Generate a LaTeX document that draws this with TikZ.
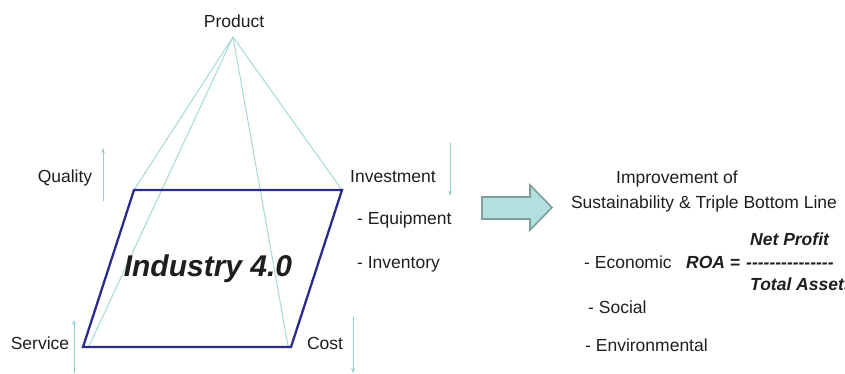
\documentclass[tikz,border=0pt]{standalone}
\usepackage{fontspec}
\setmainfont{Liberation Sans}
\usetikzlibrary{arrows.meta}
\definecolor{frame}{HTML}{2B2B8C}
\definecolor{edge}{HTML}{A6D8D8}
\definecolor{trend}{HTML}{96CCCC}
\definecolor{blockfill}{HTML}{B4DFDF}
\definecolor{blockline}{HTML}{7F9E9E}
\definecolor{ink}{HTML}{1E1E1E}
% a hyphen that never merges with its neighbours into a dash
\newcommand\hy{-\kern0pt}
\begin{document}
\begin{tikzpicture}[x=1pt,y=-1pt,
  lbl/.style={inner sep=0pt,text=ink,font=\fontsize{17.5}{20}\selectfont},
  lblb/.style={lbl,font=\fontsize{17.5}{20}\selectfont\bfseries\itshape},
  base/.style={draw=frame,line width=2.3pt,line join=miter},
  ridge/.style={draw=edge,line width=1pt},
  trendup/.style={draw=trend,line width=1pt,-{Stealth[length=5pt,width=3.5pt]}},
  blockarrow/.style={fill=blockfill,draw=blockline,line width=1.6pt,line join=miter}]
\useasboundingbox (0,0) rectangle (845,373);

% base of the pyramid and its apex
\coordinate (tl) at (134,190);
\coordinate (tr) at (342,190);
\coordinate (br) at (291,347);
\coordinate (bl) at (83,347);
\coordinate (apex) at (233,37);
\coordinate (blin) at (89,346);
\coordinate (brin) at (288,346);

\draw[ridge] (apex) -- (tl);
\draw[ridge] (apex) -- (tr);
\draw[ridge] (apex) -- (blin);
\draw[ridge] (apex) -- (brin);
\draw[base] (tl) -- (tr) -- (br) -- (bl) -- cycle;

\node[lblb,font=\fontsize{30}{34}\selectfont\bfseries\itshape,anchor=base] (ind) at (208,276) {Industry 4.0};

% corner labels
\node[lbl,anchor=base] (product) at (234,27) {Product};
\node[lbl,anchor=base] (quality) at (65,182) {Quality};
\node[lbl,anchor=base] (invest) at (393,182) {Investment};
\node[lbl,anchor=base west] (equip) at (357,224) {- Equipment};
\node[lbl,anchor=base west] (inventory) at (357,268) {- Inventory};
\node[lbl,anchor=base] (service) at (40,349) {Service};
\node[lbl,anchor=base] (cost) at (325,349) {Cost};

% trend arrows beside the labels
\coordinate (q0) at (103,201); \coordinate (q1) at (103,148);
\coordinate (s0) at (74,373);  \coordinate (s1) at (74,320);
\coordinate (i0) at (450,143); \coordinate (i1) at (450,196);
\coordinate (c0) at (353,317); \coordinate (c1) at (353,373);
\draw[trendup] (q0) -- (q1);
\draw[trendup] (s0) -- (s1);
\draw[trendup] (i0) -- (i1);
\draw[trendup] (c0) -- (c1);

% block arrow towards the outcomes
\draw[blockarrow] (482,197) -- (530,197) -- (530,185) -- (552,207.5)
  -- (530,230) -- (530,219) -- (482,219) -- cycle;

% outcomes
\node[lbl,anchor=base] (impr) at (677,183) {Improvement of};
\node[lbl,anchor=base] (sust) at (704,208) {Sustainability \& Triple Bottom Line};
\node[lblb,anchor=base west] (np) at (750,245) {Net Profit};
\node[lbl,anchor=base west] (econ) at (584,268) {- Economic};
\node[lblb,anchor=base west] (roa) at (686,268) {ROA =};
\node[lblb,anchor=base west] (bar) at (746,268) {\hy\hy\hy\hy\hy\hy\hy\hy\hy\hy\hy\hy\hy\hy\hy};
\node[lblb,anchor=base west] (ta) at (750,290) {Total Assets};
\node[lbl,anchor=base west] (soc) at (588,313) {- Social};
\node[lbl,anchor=base west] (env) at (585,351) {- Environmental};
\end{tikzpicture}
\end{document}
